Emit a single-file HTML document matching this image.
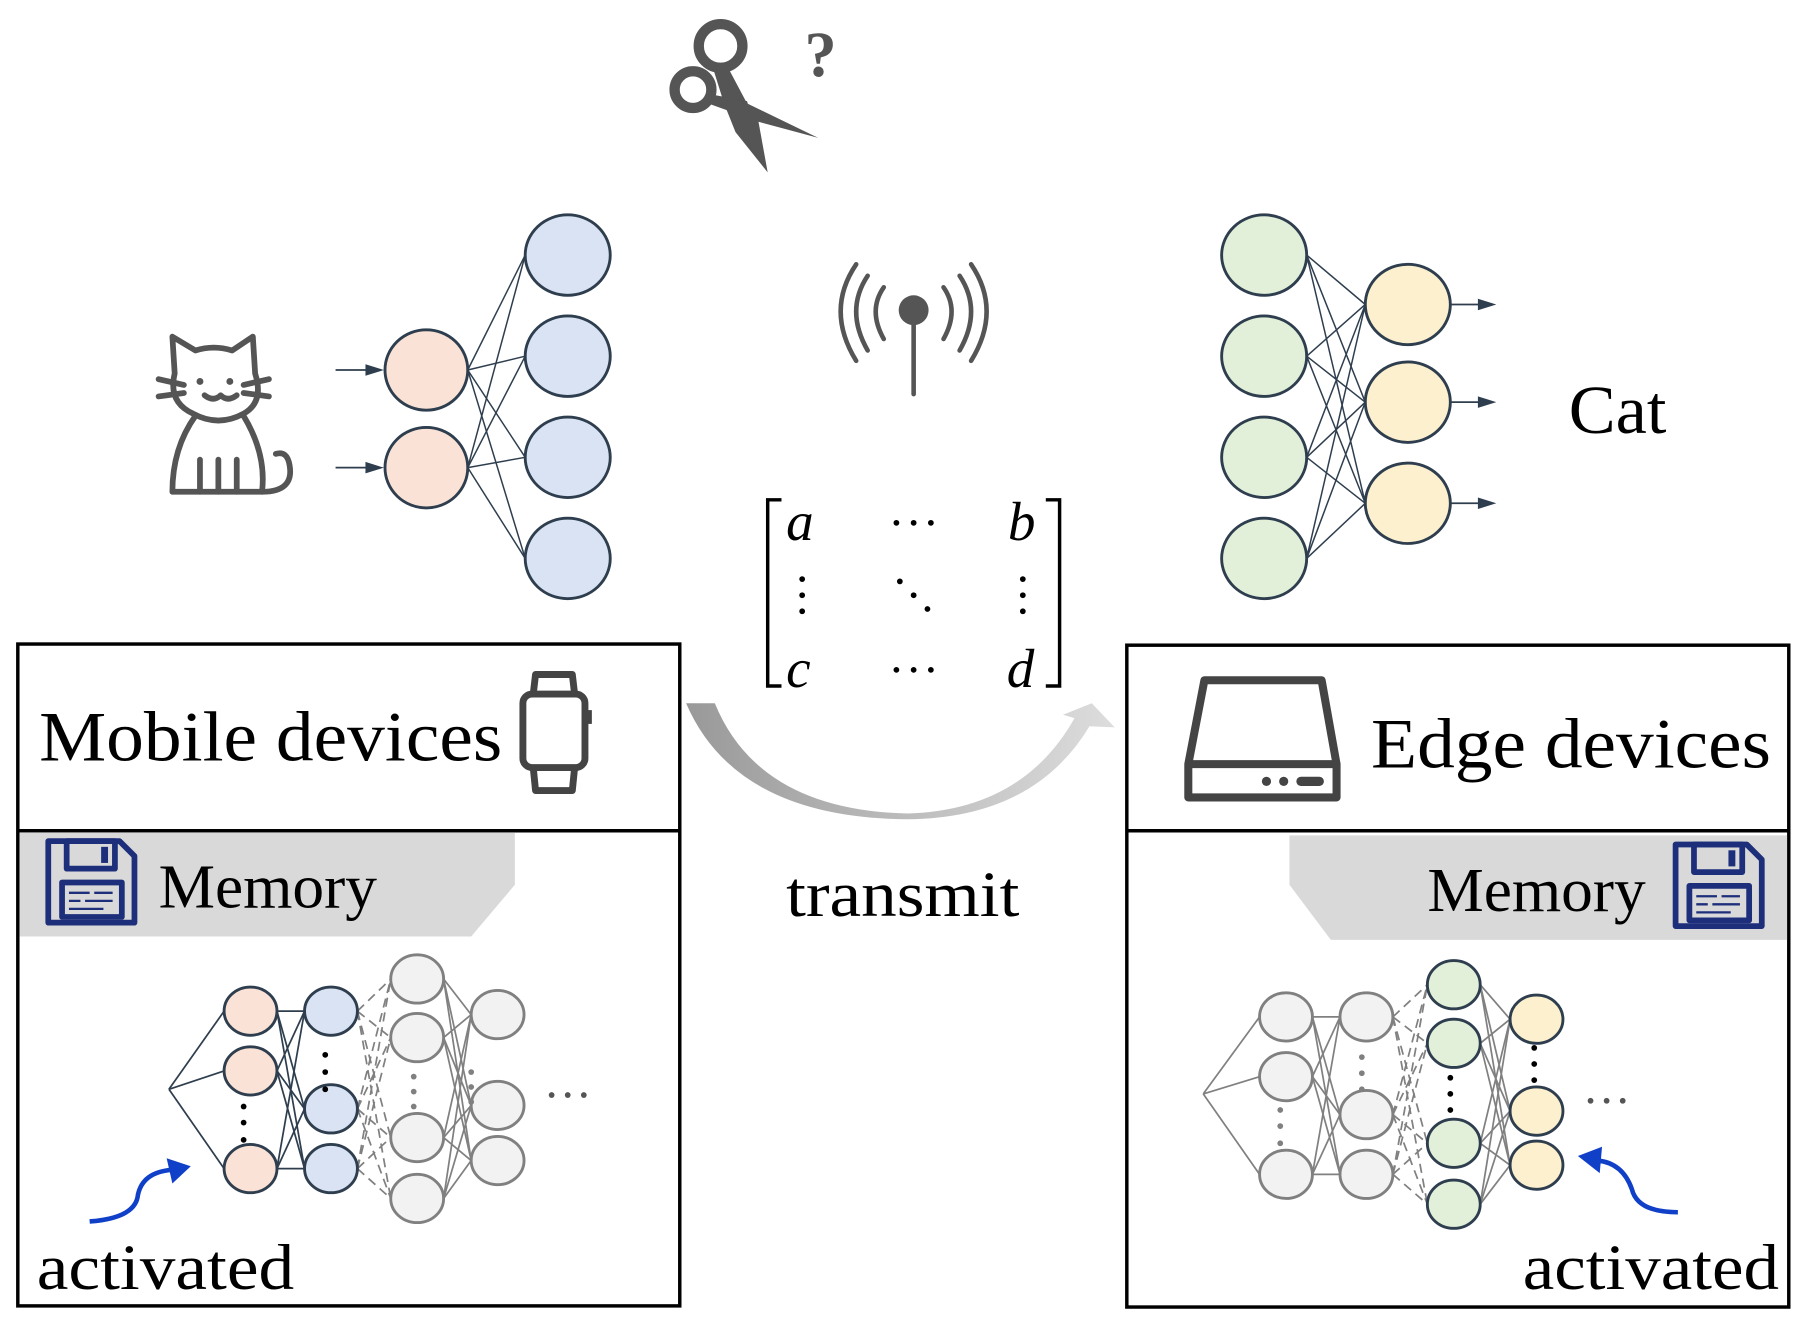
<!DOCTYPE html>
<html><head><meta charset="utf-8"><style>
html,body{margin:0;padding:0;background:#fff}
svg{display:block}
text{font-family:"Liberation Serif",serif;fill:#000}
</style></head><body>
<svg id="s" width="1802" height="1326" viewBox="0 0 1568 1154" preserveAspectRatio="none" xmlns="http://www.w3.org/2000/svg">
<defs>
<linearGradient id="ag" x1="0" x2="1" y1="0" y2="0"><stop offset="0" stop-color="#999"/><stop offset="1" stop-color="#ddd"/></linearGradient>
</defs>
<g id="lines"></g>
<g id="nodes"></g>
<!-- cat -->
<g fill="none" stroke="#555" stroke-width="5" stroke-linecap="round" stroke-linejoin="round">
<path d="M150 293 L170 305 Q186 300 202 305 L220 293 L222 325 Q230 350 212 360 Q190 372 168 360 Q146 350 152 325 Z"/>
<path d="M170 362 Q150 390 150 428 L228 428 Q232 395 212 362"/>
<path d="M228 428 Q256 428 252 405 Q250 392 240 395"/>
<path d="M174 400 L174 428 M190 400 L190 428 M206 400 L206 428"/>
<path d="M138 330 L160 335 M138 345 L160 342 M234 330 L212 335 M234 345 L212 342"/>
<path d="M178 344 Q186 350 192 344 Q198 350 206 344"/>
</g>
<circle cx="174" cy="332" r="3" fill="#555"/><circle cx="200" cy="332" r="3" fill="#555"/>
<!-- scissors -->
<g fill="#555">
<circle cx="627" cy="40" r="19" fill="none" stroke="#555" stroke-width="9"/>
<circle cx="603" cy="78" r="16" fill="none" stroke="#555" stroke-width="9"/>
<polygon points="620,58 632,56 650,90 712,120 660,106 668,150 640,115 630,90"/>
<polygon points="618,82 650,88 655,104 616,90"/>
</g>
<text x="700" y="66" font-size="56" font-weight="bold" style="fill:#555">?</text>
<!-- antenna -->
<g fill="none" stroke="#555" stroke-width="4" stroke-linecap="round">
<line x1="795" y1="270" x2="795" y2="343"/>
<path d="M769 250 Q755 270 769 295"/><path d="M755 240 Q735 270 755 305"/><path d="M745 230 Q718 270 745 314"/>
<path d="M821 250 Q835 270 821 295"/><path d="M835 240 Q855 270 835 305"/><path d="M845 230 Q872 270 845 314"/>
</g>
<circle cx="795" cy="270" r="13" fill="#555"/>
<!-- matrix -->
<g fill="none" stroke="#000" stroke-width="3">
<path d="M680 435 L668 435 L668 597 L680 597"/><path d="M910 435 L922 435 L922 597 L910 597"/>
</g>
<g font-style="italic" font-size="48">
<text x="684" y="470">a</text><text x="877" y="470">b</text><text x="684" y="598">c</text><text x="876" y="598">d</text>
</g>
<g fill="#000">
<circle cx="780" cy="455" r="2.5"/><circle cx="795" cy="455" r="2.5"/><circle cx="810" cy="455" r="2.5"/>
<circle cx="780" cy="583" r="2.5"/><circle cx="795" cy="583" r="2.5"/><circle cx="810" cy="583" r="2.5"/>
<circle cx="698" cy="504" r="2.5"/><circle cx="698" cy="518" r="2.5"/><circle cx="698" cy="532" r="2.5"/>
<circle cx="890" cy="504" r="2.5"/><circle cx="890" cy="518" r="2.5"/><circle cx="890" cy="532" r="2.5"/>
<circle cx="783" cy="506" r="2.5"/><circle cx="795" cy="518" r="2.5"/><circle cx="807" cy="530" r="2.5"/>
</g>
<text x="1365" y="377" font-size="60" textLength="85" lengthAdjust="spacingAndGlyphs">Cat</text>
<!-- transmit arc -->
<path d="M597 612 L622 612 Q660 705 790 708 Q890 705 935 625 L925 622 L950 612 L970 633 L948 632 Q900 712 790 713 Q640 712 597 612 Z" fill="url(#ag)"/>
<text x="684" y="797" font-size="56" textLength="203" lengthAdjust="spacingAndGlyphs">transmit</text>
<!-- left box -->
<rect x="15.5" y="560.5" width="576" height="576" fill="none" stroke="#000" stroke-width="3"/>
<line x1="15" y1="723" x2="592" y2="723" stroke="#000" stroke-width="3"/>
<text x="34" y="662" font-size="62" textLength="403" lengthAdjust="spacingAndGlyphs">Mobile devices</text>
<g fill="none" stroke="#444" stroke-width="6" stroke-linejoin="round">
<rect x="455" y="604" width="54" height="64" rx="8"/>
<path d="M464 604 L466 587 L498 587 L500 604 M464 668 L466 688 L498 688 L500 668"/>
</g>
<rect x="509" y="618" width="6" height="12" fill="#444"/>
<polygon points="17,725 448,725 448,770 410,815 17,815" fill="#d9d9d9"/>
<text x="138" y="790" font-size="54" textLength="190" lengthAdjust="spacingAndGlyphs">Memory</text>
<!-- right box -->
<rect x="980.5" y="561.5" width="576" height="576" fill="none" stroke="#000" stroke-width="3"/>
<line x1="980" y1="723" x2="1557" y2="723" stroke="#000" stroke-width="3"/>
<text x="1193" y="668" font-size="62" textLength="348" lengthAdjust="spacingAndGlyphs">Edge devices</text>
<g fill="none" stroke="#444" stroke-width="7" stroke-linejoin="round">
<path d="M1048 592 L1150 592 L1163 665 L1163 694 L1034 694 L1034 665 Z"/><line x1="1034" y1="665" x2="1163" y2="665"/>
</g>
<circle cx="1102" cy="680" r="4" fill="#444"/><circle cx="1117" cy="680" r="4" fill="#444"/><rect x="1128" y="676" width="24" height="8" rx="4" fill="#444"/>
<polygon points="1122,727 1555,727 1555,818 1158,818 1122,770" fill="#d9d9d9"/>
<text x="1242" y="793" font-size="54" textLength="190" lengthAdjust="spacingAndGlyphs">Memory</text>
<!-- floppies -->
<g fill="none" stroke="#1d2f7a" stroke-width="5" stroke-linejoin="round">
<path d="M42 732 L104 732 L117 745 L117 803 L42 803 Z"/><rect x="58" y="732" width="42" height="24"/><rect x="54" y="768" width="52" height="30"/>
<path d="M60 777 L78 777 M82 777 L98 777 M60 784 L70 784 M74 784 L98 784 M60 791 L90 791" stroke-width="2"/>
</g>
<rect x="88" y="737" width="6" height="14" fill="#1d2f7a"/>
<g fill="none" stroke="#1d2f7a" stroke-width="5" stroke-linejoin="round">
<path d="M1458 735 L1520 735 L1533 748 L1533 806 L1458 806 Z"/><rect x="1474" y="735" width="42" height="24"/><rect x="1470" y="771" width="52" height="30"/>
<path d="M1476 780 L1494 780 M1498 780 L1514 780 M1476 787 L1486 787 M1490 787 L1514 787 M1476 794 L1506 794" stroke-width="2"/>
</g>
<rect x="1504" y="740" width="6" height="14" fill="#1d2f7a"/>
<!-- activated -->
<text x="32" y="1122" font-size="56" textLength="224" lengthAdjust="spacingAndGlyphs">activated</text>
<text x="1325" y="1122" font-size="56" textLength="223" lengthAdjust="spacingAndGlyphs">activated</text>
<path d="M78 1063 Q118 1060 120 1040 Q124 1020 150 1018" fill="none" stroke="#1040c8" stroke-width="4"/>
<polygon points="166,1015 145,1008 150,1030" fill="#1040c8"/>
<path d="M1460 1055 Q1425 1055 1420 1035 Q1412 1012 1390 1010" fill="none" stroke="#1040c8" stroke-width="4"/>
<polygon points="1373,1006 1394,998 1392,1021" fill="#1040c8"/>
<g fill="#555"><circle cx="480" cy="953" r="2.5"/><circle cx="494" cy="953" r="2.5"/><circle cx="508" cy="953" r="2.5"/>
<circle cx="1384" cy="958" r="2.5"/><circle cx="1398" cy="958" r="2.5"/><circle cx="1412" cy="958" r="2.5"/></g>
</svg>
<script>
var NS="http://www.w3.org/2000/svg",L=document.getElementById("lines"),N=document.getElementById("nodes");
function el(p,t,a){var e=document.createElementNS(NS,t);for(var k in a)e.setAttribute(k,a[k]);p.appendChild(e);return e;}
function line(x1,y1,x2,y2,c,w,d){var a={x1:x1,y1:y1,x2:x2,y2:y2,stroke:c,"stroke-width":w};if(d)a["stroke-dasharray"]=d;el(L,"line",a);}
function node(x,y,rx,ry,f,s,w){el(N,"ellipse",{cx:x,cy:y,rx:rx,ry:ry,fill:f,stroke:s,"stroke-width":w});}
function full(A,B,rxA,rxB,c,w,d){A.y.forEach(function(a){B.y.forEach(function(b){line(A.x+rxA,a,B.x-rxB,b,c,w,d);});});}
function dots(x,ys,c){ys.forEach(function(y){el(N,"circle",{cx:x,cy:y,r:2.5,fill:c});});}
var D="#2e3e4e",G="#808080";
var o={x:371,y:[322,407]},b={x:494,y:[222,310,398,486]};
full(o,b,36,37,D,1.3);
o.y.forEach(function(y){node(o.x,y,36,35,"#fae3d6",D,2.5);line(292,y,320,y,D,1.5);el(N,"polygon",{points:"334,"+y+" 318,"+(y-5)+" 318,"+(y+5),fill:D});});
b.y.forEach(function(y){node(b.x,y,37,35,"#d9e3f3",D,2.5);});
var g={x:1100,y:[222,310,398,486]},yl={x:1225,y:[265,350,438]};
full(g,yl,37,37,D,1.3);
g.y.forEach(function(y){node(g.x,y,37,35,"#e2f0da",D,2.5);});
yl.y.forEach(function(y){node(yl.x,y,37,35,"#fcf0ce",D,2.5);line(1262,y,1288,y,D,1.5);el(N,"polygon",{points:"1302,"+y+" 1286,"+(y-5)+" 1286,"+(y+5),fill:D});});
var L1={x:218,y:[880,932,1017]},L2={x:288,y:[880,965,1017]},L3={x:363,y:[852,903,990,1043]},L4={x:433,y:[883,962,1010]};
L1.y.forEach(function(y){line(147,948,L1.x-23,y,D,1.5);});
full(L1,L2,23,23,D,1.5);full(L2,L3,23,23,G,1.5,"8,5");full(L3,L4,23,23,G,1.5);
L1.y.forEach(function(y){node(L1.x,y,23,21,"#fae3d6",D,2.5);});
L2.y.forEach(function(y){node(L2.x,y,23,21,"#d9e3f3",D,2.5);});
L3.y.forEach(function(y){node(L3.x,y,23,21,"#f2f2f2",G,2.5);});
L4.y.forEach(function(y){node(L4.x,y,23,21,"#f2f2f2",G,2.5);});
dots(212,[963,977,992],"#000");dots(283,[918,933,948],"#000");dots(410,[933,946,959],G);dots(360,[937,950,963],G);
var R1={x:1119,y:[885,937,1022]},R2={x:1189,y:[885,970,1022]},R3={x:1265,y:[857,908,995,1048]},R4={x:1337,y:[887,967,1014]};
R1.y.forEach(function(y){line(1047,952,R1.x-23,y,G,1.5);});
full(R1,R2,23,23,G,1.5);full(R2,R3,23,23,G,1.5,"8,5");full(R3,R4,23,23,G,1.5);
R1.y.forEach(function(y){node(R1.x,y,23,21,"#f2f2f2",G,2.5);});
R2.y.forEach(function(y){node(R2.x,y,23,21,"#f2f2f2",G,2.5);});
R3.y.forEach(function(y){node(R3.x,y,23,21,"#e2f0da",D,2.5);});
R4.y.forEach(function(y){node(R4.x,y,23,21,"#fcf0ce",D,2.5);});
dots(1114,[966,980,995],G);dots(1185,[920,934,948],G);dots(1262,[938,952,966],"#000");dots(1335,[912,926,940],"#000");
</script>
</body></html>
